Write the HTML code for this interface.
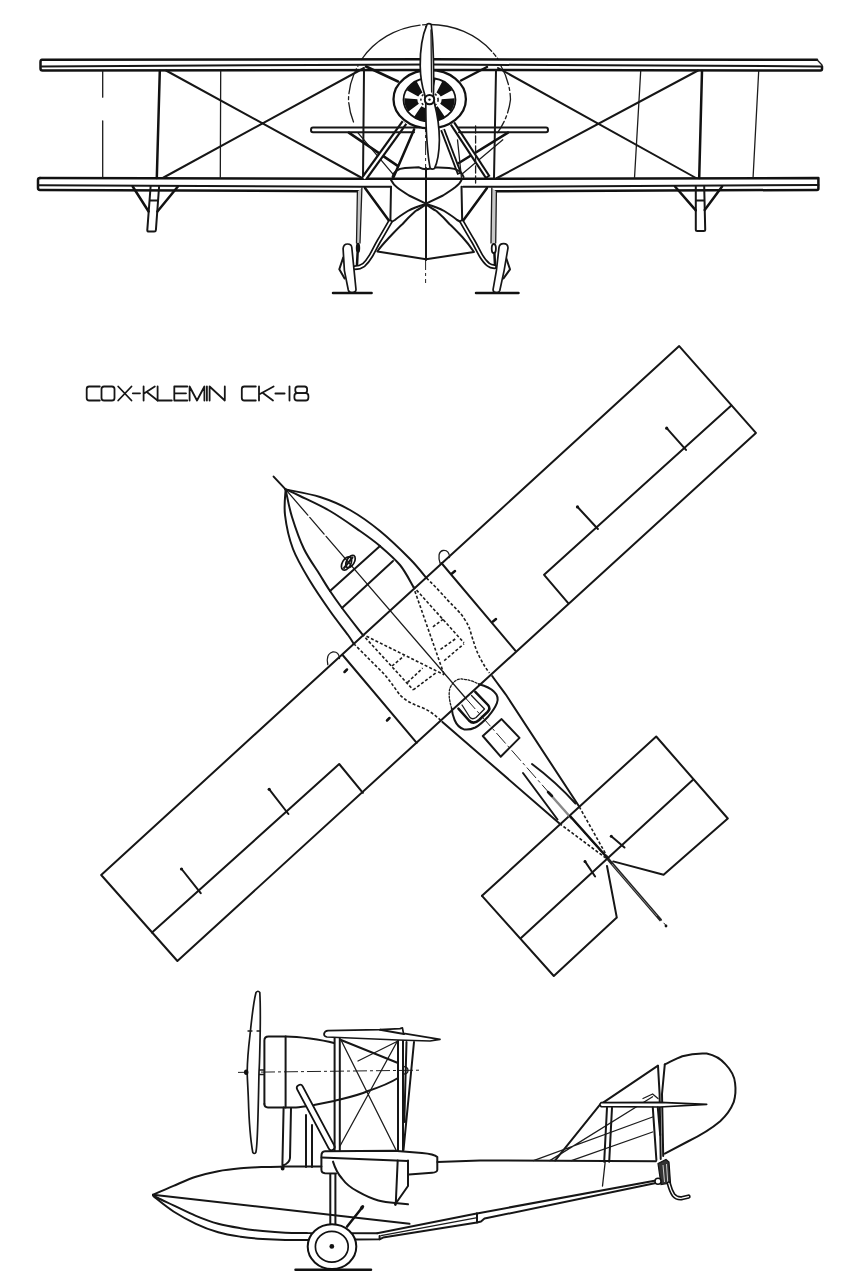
<!DOCTYPE html>
<html><head><meta charset="utf-8"><title>Cox-Klemin CK-18</title>
<style>
html,body{margin:0;padding:0;background:#fff;}
body{width:850px;height:1287px;overflow:hidden;font-family:"Liberation Sans",sans-serif;}
svg{display:block;filter:blur(0.3px);}
.k{fill:none;stroke:#161616;stroke-width:2;stroke-linecap:round;stroke-linejoin:round;}
.t{fill:none;stroke:#1c1c1c;stroke-width:1.3;stroke-linecap:round;stroke-linejoin:round;}
.h{fill:none;stroke:#111;stroke-width:2.5;stroke-linecap:round;stroke-linejoin:round;}
.w{fill:#fff;stroke:#161616;stroke-width:1.7;stroke-linejoin:round;}
.d{fill:none;stroke:#1c1c1c;stroke-width:1.6;stroke-dasharray:3 2;}
.cl{fill:none;stroke:#222;stroke-width:1;stroke-dasharray:14 3 3 3;}
</style></head><body>
<svg width="850" height="1287" viewBox="0 0 850 1287">
<rect width="850" height="1287" fill="#fff"/>
<!--FRONT-->
<g id="front">
<!-- prop disc arc -->
<path class="t" stroke-width="1.7" d="M361.5,59.5 A81,75.2 0 0 1 429.5,24.5 A81,75.2 0 0 1 498.2,59.5" stroke-dasharray="70 2.5 4 2.5"/>
<path class="t" stroke-width="1.3" d="M353.5,122 A81,75.2 0 0 1 348.5,99.7 A81,75.2 0 0 1 358,66" stroke-dasharray="20 3 3 3"/>
<path class="t" stroke-width="1.3" d="M501,66 A81,75.2 0 0 1 510.5,99.7 A81,75.2 0 0 1 497.6,132.6" stroke-dasharray="20 3 3 3"/>
<!-- centre line -->
<path class="cl" d="M425.6,26 V283"/>
<!-- top wing -->
<path class="h" stroke-width="2.2" d="M817,59.7 L430,59.3 L42,59.7 Q40.5,59.7 40.5,62 V68.5 Q40.5,70.5 42.5,70.5 L430,70 L820.5,70.5 Q822,70.5 822,69 V66.4"/>
<path class="k" stroke-width="2" d="M41,66.4 L250,65.2 L430,64.6 L600,65.2 L822,66.4"/>
<path class="t" d="M817,59.7 L822,65" stroke="#999"/>
<!-- bottom wing -->
<path class="h" stroke-width="2.3" d="M40,178.1 L360,178.8 L494,178.8 L818.4,178.1 V188.5 Q818.4,189.9 817,189.9 L494,191.2"/>
<path class="h" stroke-width="2.2" d="M359,191.2 L40,189.9 Q38,189.9 38,188 V180 Q38,178.1 40,178.1"/>
<path class="k" stroke-width="1.9" d="M38.5,185.3 L360,186.8 H391"/><path class="k" stroke-width="1.9" d="M463,186.8 H494 L818.4,185"/>
<!-- interplane struts left -->
<path class="t" stroke-width="1.5" d="M102.7,71 V97.2 M102.7,120.8 V177"/>
<path class="h" stroke-width="3" d="M159.8,71 L156.8,178"/>
<path class="t" stroke-width="1.6" d="M220.7,71 L220.3,178"/>
<path class="k" d="M166,70.5 L362,178 M163.6,177.5 L364,68"/>
<!-- right -->
<path class="t" stroke-width="1.6" d="M640.7,71 L634.5,178"/>
<path class="h" stroke-width="3" d="M702,71 L699.2,178"/>
<path class="t" stroke-width="1.6" d="M758.7,71 L753.1,177"/>
<path class="k" d="M698,70.5 L497,178 M696,178 L498,68"/>
<!-- wing floats -->
<path class="k" stroke-width="2" d="M150.6,186.5 L147.3,230 Q147.3,231.6 149,231.6 H154.2 Q155.8,231.6 155.9,230 L159.1,186.5 M149.5,200.6 H158"/>
<path class="h" stroke-width="2.2" d="M132.7,186.5 L148.6,211.5 M177.9,186.5 L157.4,211.5"/>
<path class="k" stroke-width="2" d="M695.8,186.5 V229.5 Q695.8,231 697.3,231 H703.7 Q705.2,231 705.2,229.5 L704.2,186.5 M695.8,200.6 H704.5"/>
<path class="h" stroke-width="2.2" d="M675,186.5 L695.8,210.4 M722.1,186.5 L704.7,209.9"/>
<!-- cabane -->
<path class="k" d="M364,70.5 L363,178 M496,70.5 L494,178"/>
<path class="h" d="M366,66.5 L398,81.5 M487,67 L461,80.5"/>
<!-- engine mount struts -->
<path class="h" stroke-width="2.5" d="M348.8,132.6 L397.3,165.6 M508,132.6 L458.8,163"/>
<path class="t" stroke-width="1.4" d="M357.8,132.6 L393.4,174.7 M502.8,139.8 L462.7,173.4"/>
<path d="M364.6,177.8 L404.5,122.5" fill="none" stroke="#111" stroke-width="6.6"/><path d="M364,178.6 L404.5,122.5" fill="none" stroke="#fff" stroke-width="2.2"/>
<path d="M488,177.6 L452.5,123.5" fill="none" stroke="#111" stroke-width="6"/><path d="M487,176 L452.5,123.5" fill="none" stroke="#fff" stroke-width="1.8"/>
<path class="h" stroke-width="3" d="M414.1,129.4 L393.6,177"/>
<path d="M442.6,129.6 L459.6,174" fill="none" stroke="#111" stroke-width="5"/><path d="M442.6,129.6 L459,172.5" fill="none" stroke="#fff" stroke-width="1.3"/>
<path class="t" stroke-width="1.5" d="M457.5,139.8 L461.4,177.3"/>
<path class="t" stroke-width="1.4" d="M475.6,126 V186" stroke-dasharray="7 3"/>
<!-- stub plane -->
<path class="k" d="M420,127.6 H313 Q311,127.6 311,130 Q311,132.3 313,132.3 H414 M458.5,127.6 H546 Q548,127.6 548,130 Q548,132.2 546,132.2 H459"/>
<!-- engine -->
<ellipse cx="429.7" cy="99.2" rx="36.2" ry="29.2" fill="#fff" stroke="#111" stroke-width="2.3"/>
<ellipse cx="429.5" cy="99.7" rx="26" ry="21.7" fill="#fff" stroke="#111" stroke-width="1.8"/>
<ellipse cx="429.5" cy="99.7" rx="18.6" ry="15.4" fill="none" stroke="#111" stroke-width="13" pathLength="70" stroke-dasharray="6.4 3.6" stroke-dashoffset="0.7"/>
<ellipse cx="429.5" cy="99.7" rx="8.6" ry="7.4" fill="#fff" stroke="#222" stroke-width="1.6" stroke-dasharray="2.2 2.6"/>
<!-- hull -->
<path class="k" d="M392.5,177 Q394,169 405,168 L419,167.3 Q426,171 433,167.3 L449,168 Q461,169 463.6,177"/>
<path class="k" d="M391,180 C393,184 395,186 397.5,187.8 C401,190.5 405,193 409,195.5 L426,203.6 L443,195.5 C447,193 451,190.5 454.5,187.8 C457,186 460,184 461.5,180"/>
<path class="k" d="M391,186.8 L390.4,221 M461.5,186.8 L462.2,221"/>
<path class="k" d="M426,204 C419,206 413,208 407.8,211 C403,214 399,216.5 394.9,220 L390.6,222.5 M426,204 C433,206 439,208 444.2,211 C449,214 453,216.5 457.1,220 L461.8,222.5"/>
<path class="k" d="M426,204.6 C422,207 419,209 415.6,211 C411,215 406.5,219.5 402.6,224 C398,228 394,232.5 389.7,237 C386,241 381,246 377.4,251.5 L426,259.2 L474,252 C470,246 466,241 462.3,237 C458,232.5 454,228 449.4,224 C445.5,219.5 441,215 436.4,211 C433,209 430,207 426,204.6"/>
<path class="k" stroke-width="2" d="M426,168 V260"/>
<!-- gear -->
<path class="h" d="M365,188 L389,220.8 M487,188 L463,220.8"/>
<path d="M357.4,191.5 L356.5,243 L360,243 L361.9,188 Z M491.8,188 L491,243 L495.7,243 L496.4,191.5 Z" fill="#c8c8c8" stroke="none"/>
<path class="t" stroke-width="1.5" d="M357.4,191.5 L356.5,243 M361.9,188 L360,243 M491.8,188 L491,243 M496.4,191.5 L495.7,243"/>
<ellipse cx="358" cy="248" rx="2.2" ry="5.2" fill="#111"/><ellipse cx="493.8" cy="248.6" rx="2.1" ry="4.6" fill="#fff" stroke="#111" stroke-width="1.8"/>
<path class="h" d="M357.6,253 L357,265 M494.4,253 L495,265"/>
<path d="M390,222 C386,229 382,236 378.7,241.4 C376,246 373.5,251.5 371,255.7 C369,259 366.5,262.5 363.7,265 C361,267 358,267.7 354.5,267.8" fill="none" stroke="#111" stroke-width="5" stroke-linecap="round"/>
<path d="M390,222 C386,229 382,236 378.7,241.4 C376,246 373.5,251.5 371,255.7 C369,259 366.5,262.5 363.7,265 C361,267 358,267.7 354.5,267.8" fill="none" stroke="#fff" stroke-width="1.6" stroke-linecap="round"/>
<path d="M462,222 C466,229 470,236 473.3,241.4 C476,246 478.5,251.5 481,255.7 C483,259 485.5,262.5 488.3,264.6 C490,266 492,266.6 494.5,266.8" fill="none" stroke="#111" stroke-width="5" stroke-linecap="round"/>
<path d="M462,222 C466,229 470,236 473.3,241.4 C476,246 478.5,251.5 481,255.7 C483,259 485.5,262.5 488.3,264.6 C490,266 492,266.6 494.5,266.8" fill="none" stroke="#fff" stroke-width="1.6" stroke-linecap="round"/>
<path class="k" d="M343.2,257.6 L339.3,269.3 L344.6,278.4 M506,257.6 L510,269.3 L503.5,278.4"/>
<path class="w" d="M347.6,244 Q343.5,244 343.1,248.6 L344.4,270.6 L348.3,290 Q349,292.8 352.2,292.6 Q356,292.4 356,289.5 L354.1,270.6 L351.8,247.5 Q351.5,244 347.6,244 Z"/>
<path class="w" d="M503.6,243.6 Q507.8,243.6 508,247.8 L504.1,270.6 L499.8,290.5 Q499,292.8 496.2,292.6 Q492.8,292.2 493.1,289.3 L496.4,270.6 L499,247.3 Q499.6,243.6 503.6,243.6 Z"/>
<path class="h" d="M333,293 H371.6 M476,293 H518.5"/>
<!-- prop blade -->
<path class="w" d="M427,24.3 Q429,23 431.2,24.5 C432.6,35 433.4,55 433.6,70 C433.7,82 433.6,90 433.4,95 L434.6,104 C437.5,115 439.3,128 439.4,140 C439.2,153 437.2,163 434.4,168.6 Q432,170 430.2,168.2 C428.4,160 426.8,140 426.2,128 C425.8,118 425.8,110 425.8,104 L424.8,95 C422.5,88 420.4,78 420.2,66 C420,50 422,36 427,24.3 Z"/>
<path class="t" d="M431,30 L431.6,92" stroke-width="1.1"/>
<circle cx="429.5" cy="99.6" r="4.7" fill="#fff" stroke="#111" stroke-width="2"/><circle cx="429.5" cy="99.6" r="1.2" fill="#111"/>
</g>
<!--TITLE-->
<g id="title" fill="none" stroke="#161616" stroke-width="1.8" stroke-linecap="round" stroke-linejoin="round">
<path d="M99.8,386.5 H89.2 Q86.7,386.5 86.7,389 V398 Q86.7,400.5 89.2,400.5 H99.8"/>
<rect x="101.5" y="386.5" width="13" height="14" rx="2.6"/>
<path d="M118.2,386.5 L131.5,400.5 M131.5,386.5 L118.2,400.5"/>
<path d="M132.8,393.3 H140"/>
<path d="M143.6,386.5 V400.5 M154.8,386.5 L144,393.6 M146.8,392 L157.6,400.5"/>
<path d="M157.6,386.5 V400.5 H171.8"/>
<path d="M187.3,386.5 H174.3 V400.5 H187.3 M174.3,393.3 H186"/>
<path d="M189.6,400.5 V386.5 L197,400.5 L204.4,386.5 V400.5"/>
<path d="M206.9,386.5 V400.5"/>
<path d="M209.6,400.5 V386.5 L224.8,400.5 V386.5"/>
<path d="M255.8,386.5 H244.3 Q241.8,386.5 241.8,389 V398 Q241.8,400.5 244.3,400.5 H255.8"/>
<path d="M259,386.5 V400.5 M273.6,386.5 L259.5,394.2 M262.2,392.6 L273,400.5"/>
<path d="M275.4,393.5 H284.6"/>
<path d="M289.5,386.5 V400.5"/>
<rect x="295.3" y="386.5" width="11.8" height="6.7" rx="2.6"/>
<rect x="294.4" y="393.2" width="14" height="7.3" rx="2.8"/>
</g>
<!--PLAN-->
<g id="plan">
<!-- centre line -->
<path class="k" d="M273.6,476.6 L285.6,489.4"/><path class="t" stroke-width="1.5" d="M285.6,489.4 L466,698.5" stroke-dasharray="34 3 22 3 400"/>
<path class="cl" d="M466,698.5 L666,925.5" stroke-dasharray="12 3 3 3"/>
<!-- upper wing -->
<path class="k" d="M101.2,875 L679.2,346.1 L755.9,432.9 L177.4,961 Z"/>
<path class="k" d="M731.3,405.4 L544.1,574.8 L568.2,603.2"/>
<path class="k" d="M152,932.6 L339.2,764 L362.9,792.8"/>
<path class="k" d="M666.9,428.3 L686,449.9 M577.6,507 L597.9,529 M181.6,869 L200.7,893.2 M269.3,789.4 L288.4,814"/>
<g fill="#111"><circle cx="666.7" cy="428.2" r="1.6"/><circle cx="577.5" cy="506.9" r="1.6"/><circle cx="181.5" cy="869" r="1.6"/><circle cx="269.2" cy="789.3" r="1.6"/></g>
<path class="k" d="M441.4,563 L515.3,650.6 M342.6,655 L416.7,742.8"/>
<path class="h" d="M452,573.5 L455,571 M493,621.5 L496,619 M347,669.5 L344.5,672 M389.5,718 L387,720.5"/>
<path class="t" d="M440.2,563.5 C438,557 438.5,551.5 443,550.5 C447.5,550 449.5,553 449.5,557.5"/>
<path class="t" d="M327.8,664.5 C326.5,659 327.5,653.5 332.5,652 C337,651.5 339.3,654 339.5,658.5"/>
<!-- hull fwd -->
<path class="k" d="M285.6,489.4 C291.3,490.7 309.3,493.6 320.0,497.0 C330.7,500.4 340.0,504.3 350.0,510.0 C360.0,515.7 370.0,522.8 380.0,531.0 C390.0,539.2 402.3,551.2 410.0,559.0 C417.7,566.8 423.7,574.8 426.4,578.0"/>
<path class="k" d="M285.6,489.4 C285.5,493.7 283.8,505.1 285.0,515.0 C286.2,524.9 288.8,538.0 293.0,549.0 C297.2,560.0 303.8,570.7 310.0,581.0 C316.2,591.3 323.7,602.0 330.0,611.0 C336.3,620.0 344.1,629.6 348.0,635.0 C351.9,640.4 352.7,642.1 353.6,643.5"/>
<path class="k" stroke-width="1.6" d="M285.6,489.4 C288.0,490.5 292.6,492.4 300.0,496.0 C307.4,499.6 320.0,505.2 330.0,511.0 C340.0,516.8 351.7,525.2 360.0,531.0 C368.3,536.8 373.3,540.3 380.0,546.0 C386.7,551.7 394.4,558.2 400.0,565.0 C405.6,571.8 411.2,583.3 413.5,587.0"/>
<path class="k" stroke-width="1.6" d="M285.6,489.4 C286.7,494.0 288.9,507.1 292.0,517.0 C295.1,526.9 299.3,539.3 304.0,549.0 C308.7,558.7 315.7,568.0 320.0,575.0 C324.3,582.0 326.3,585.5 330.0,591.0 C333.7,596.5 336.7,600.8 342.0,608.0 C347.3,615.2 358.7,629.7 362.0,634.0"/>
<path class="k" d="M330,591 L380,546 M342,608 L393,561"/>
<!-- windscreen gadget -->
<ellipse cx="346.5" cy="563.5" rx="4.2" ry="7.2" transform="rotate(30 346.5 563.5)" fill="none" stroke="#111" stroke-width="1.7"/>
<ellipse cx="350.5" cy="561.5" rx="3.8" ry="6.8" transform="rotate(30 350.5 561.5)" fill="none" stroke="#111" stroke-width="1.7"/>
<path class="k" d="M344,568 L352.5,557.5"/>
<!-- dashed hull under wing -->
<path class="d" d="M426.4,578 C436,587 442,594 447.1,599.5 C455,608 461,613 464,618.4 C468,624 470,629 471.5,635.3 C474,643 476,650 479.1,656 C482,662 485,667 489.4,673"/>
<path class="d" d="M353.6,643.5 C365,655 376,666 384.7,674.6 C391,682 396,690 400.2,695.3 C407,702 415,705 423.5,708.2 C430,711 436,716 441.6,721.2"/>
<!-- dashed A-frames -->
<path class="d" d="M413.2,586.4 L444.2,674.8 M413.2,586.4 L464,642.8 M432.9,626.8 L444.2,618.4 M440.5,649.4 L456.5,638.1 M444.2,660.7 L464,643.8"/>
<path class="d" d="M362,634 L444.2,674.8 M362,634 L413.2,689.9 M407.5,682.4 L422.6,668.2 M413.2,689.9 L435.8,672.9 M392,666 L404,656"/>
<!-- hull aft -->
<path class="k" d="M492.2,676 C497,683 502,689 506.3,695.3 L579.3,806.8"/>
<path class="k" d="M442.4,721.9 L559.5,823.5"/>
<!-- rear cockpit -->
<path class="t" d="M451.8,708.7 C449,700 448.5,693 450,688 C453,681 458,678.5 462.1,679 C468,679.5 474,681.5 479.1,684.2" stroke-dasharray="2 1.6"/>
<path class="k" d="M479.1,684.2 C486,686 491,688.5 494.1,691.8 C497.5,695 498.5,699 496.9,703.1 C495,708 492,712 488.5,716.2 C484,721 480,725 475.3,727.5 C471,729.5 467.5,730 464,729.4 C459.5,728 456.5,724.5 454.6,720 C453,716 452,712 451.8,708.7"/>
<path class="h" d="M475.3,691.8 L488,705 Q491,708.5 487.5,712 L479.1,720 Q473.5,725 469,720.5 L458.4,708.7"/>
<path class="t" d="M471.5,695.5 L484.5,709 L476,717.5 Q472.5,720 470,717.5 L462,705"/>
<!-- hatch -->
<path class="k" d="M501.6,719.1 L519.5,737.9 L500.7,756.7 L482.8,736 Z"/>
<!-- tailplane -->
<path class="k" d="M482,895.8 L656.2,736.5 L727.8,818.5 L663.6,874.8 L613.2,861.4"/>
<path class="k" d="M482,895.8 L553.8,976 L616.8,917.6 L607,866"/>
<path class="k" d="M521,937.9 L693,779.7"/>
<path class="k" d="M611.3,836.2 L624.5,847.5 M585,861.4 L595.1,876.5"/>
<circle cx="611.3" cy="836.2" r="1.5" fill="#111"/><circle cx="585" cy="861.4" r="1.5" fill="#111"/>
<!-- fin -->
<path class="k" d="M532,764 Q556,782 575.5,803.5 M523,773 L557.5,819.5"/>
<path d="M549,793 L572,819" fill="none" stroke="#888" stroke-width="2.4"/>
<path class="h" d="M548,792 L552,796 M570,816 L608,858.5"/>
<path class="d" d="M579.3,806.8 L608,858 M559.5,823.5 L607,859" stroke-width="1.7"/>
<path d="M608,859 L661,920.5" fill="none" stroke="#222" stroke-width="3"/>
<path d="M612,864 L657,916" fill="none" stroke="#999" stroke-width="0.8"/>
<circle cx="666" cy="926" r="1.4" fill="#111"/>
</g>
<!--SIDE-->
<g id="side">
<!-- thrust line -->
<path class="cl" d="M238,1072.4 L419,1070.2" stroke-dasharray="13 3 3 3" stroke-width="1.2"/>
<!-- nacelle -->
<path class="k" d="M264.4,1104 V1040.5 Q264.4,1036.6 268.5,1036.6 H286 C295,1036.6 302,1037.5 310,1038.6 C320,1040 328,1041.5 334,1043"/>
<path class="k" d="M264.4,1104 Q264.4,1107.4 268,1107.4 H296 C302,1107.2 308,1106 314,1105 L334,1101 C346,1098 358,1095.5 368,1091 C380,1087 390,1083 398,1078"/>
<path class="k" d="M285.6,1036.6 V1107.4"/>
<path class="t" d="M259,1070 H264.4 M259,1074.5 H264.4"/>
<path class="t" d="M403.5,1066.5 Q408,1067 408,1070.5 Q408,1074 403.5,1074"/>
<!-- engine support struts -->
<path class="k" d="M283.6,1107.4 L282.4,1165 M291,1108 L290,1158 Q289.5,1163 283,1165.5"/>
<ellipse cx="282.6" cy="1168" rx="2" ry="2.6" fill="#111"/>
<path class="k" d="M306,1115 V1167 M312,1125 V1167"/>
<path d="M300,1088 L331.5,1147" fill="none" stroke="#111" stroke-width="8" stroke-linecap="round"/>
<path d="M300,1088 L331.5,1147" fill="none" stroke="#fff" stroke-width="4.6" stroke-linecap="round"/>
<!-- interplane struts -->
<path class="k" d="M334.6,1038 V1151 M339.8,1038 V1151"/>
<path class="k" d="M398,1040 V1151 M403,1040 V1151"/>
<path class="k" d="M414,1042 L403.5,1150 M406.5,1042 L404.3,1122"/>
<path class="t" d="M341,1040 L396,1150 M398,1040 L340,1146"/>
<path class="k" d="M341,1040 L398,1063"/>
<path class="t" d="M358,1061 L398,1041"/>
<!-- upper wing -->
<path class="w" d="M324,1034 Q324.5,1030.8 328,1030.6 L380,1029.6 L400,1028.6 L402.4,1027.8 L403.5,1033.4 L440,1039.4 L430,1041 L398,1040 L327,1037 Q324,1036.5 324,1034 Z"/>
<path class="k" d="M380,1029.8 L404,1034"/>
<!-- lower wing -->
<path d="M321.4,1156 Q321.4,1151.5 325,1151.3 L394,1150.8 L422,1153 Q434,1154 437.3,1157 V1170 Q437,1172.5 432,1172.8 L409,1174.5 L325,1173.3 Q321.4,1173 321.4,1169.5 Z" fill="#fff" stroke="none"/>
<path class="k" d="M336,1173.4 L325,1173.3 Q321.4,1173 321.4,1169.5 V1156 Q321.4,1151.5 325,1151.3 L394,1150.8 L422,1153 Q434,1154 437.3,1157 V1170 Q437,1172.5 432,1172.8 L409,1174.5"/>
<path class="k" d="M321.6,1157.5 L408,1161"/>
<!-- wing float -->
<path class="k" d="M333,1161.6 C335,1168 338,1174 342,1178.5 C346,1184 351,1188 357.6,1191.4 C364,1195 371,1198.5 378.3,1200.5 C384,1202 390,1202.6 395.2,1203 L408,1204.3"/>
<path class="k" d="M408,1160.4 V1186 L395.4,1204 M397.7,1160.4 L395.8,1203"/>
<circle cx="395.4" cy="1204.6" r="1.3" fill="#111"/>
<!-- hull -->
<path class="k" d="M153.0,1194.7 C156.4,1193.2 166.3,1188.8 173.5,1185.8 C180.7,1182.8 188.5,1179.2 195.9,1176.8 C203.3,1174.4 210.8,1172.6 218.2,1171.2 C225.6,1169.8 233.2,1169.0 240.6,1168.3 C248.0,1167.6 255.8,1167.3 262.9,1167.0 C270.0,1166.7 273.2,1166.7 283.0,1166.6 C292.8,1166.5 315.0,1166.6 321.4,1166.6"/>
<path class="k" d="M437.4,1162 L480,1160.4 L655.9,1161.2"/>
<path class="k" stroke-width="1.6" d="M153,1194.7 L330,1214.8 L409.5,1223.8"/>
<path class="k" d="M153.0,1195.5 C153.4,1195.9 152.2,1195.3 155.6,1198.0 C159.0,1200.7 166.8,1207.2 173.5,1211.5 C180.2,1215.8 188.5,1220.3 195.9,1223.8 C203.3,1227.3 210.8,1230.1 218.2,1232.3 C225.6,1234.5 233.2,1235.6 240.6,1236.7 C248.0,1237.8 255.4,1238.5 262.9,1239.0 C270.3,1239.5 277.9,1239.8 285.3,1239.9 C292.8,1240.1 303.9,1239.9 307.6,1239.9 L379.6,1239.3 V1236"/>
<path class="k" d="M153.5,1195.0 C154.2,1195.5 154.6,1196.3 157.9,1198.0 C161.2,1199.7 167.2,1202.4 173.5,1205.4 C179.8,1208.4 188.5,1212.8 195.9,1215.9 C203.3,1219.0 210.8,1221.8 218.2,1223.8 C225.6,1225.8 233.2,1227.0 240.6,1228.2 C248.0,1229.4 255.4,1230.3 262.9,1231.1 C270.3,1231.8 277.9,1232.4 285.3,1232.7 C292.8,1233.0 303.9,1233.0 307.6,1233.1 L377.2,1233.3"/>
<path class="k" d="M377.2,1233.3 L476.7,1213.4"/>
<path class="k" d="M379.6,1239.3 L383,1237.6 L477,1222.5 V1213.4"/>
<path class="t" stroke="#555" d="M381,1235.6 L476,1217.8"/>
<path class="k" d="M477,1222.5 L481,1221.5 L484.5,1218.6 L655.9,1183 M477,1213.4 L655.9,1180.5"/>
<!-- wheel -->
<path class="h" d="M295.5,1269.8 H371"/>
<path class="k" d="M330.3,1174 V1225 M335.4,1174 V1225"/>
<path class="h" d="M347.1,1226.6 L361,1209"/>
<ellipse cx="362" cy="1207.5" rx="1.8" ry="2.8" transform="rotate(35 362 1207.5)" fill="#111"/>
<ellipse cx="332" cy="1246.6" rx="24.3" ry="22.4" fill="#fff" stroke="#111" stroke-width="2"/>
<ellipse cx="331.8" cy="1246.8" rx="16.4" ry="15.4" fill="#fff" stroke="#111" stroke-width="1.7"/>
<circle cx="331.8" cy="1246.4" r="2.4" fill="#111"/>
<!-- prop -->
<path class="w" d="M256,992.5 Q258,990 259.8,992.5 C260.5,1005 260.2,1035 259.8,1050 C259.6,1060 259.3,1068 259,1072 C258.6,1090 258.3,1110 257.6,1128 C257.2,1140 256.5,1150 255.8,1152.5 Q254.3,1154.5 252.8,1152.5 C250.5,1140 249,1120 248.4,1100 C248,1088 247.2,1078 247.2,1072 C247.3,1062 248.8,1045 250,1035 C251.5,1020 254,1000 256,992.5 Z"/>
<path class="t" d="M248,1031 H252 M257,1031 H260.5"/>
<ellipse cx="246.2" cy="1072.2" rx="2.2" ry="2.8" fill="#111"/>
<!-- tail -->
<path class="k" d="M555.2,1160.4 L599.8,1104.9 L658,1065.7"/>
<path class="k" d="M658,1065.7 L659.6,1094 L660.7,1159 M664.8,1064.4 L662,1094 L663.2,1156"/>
<path class="k" d="M664.8,1064.4 C670,1062 676,1058.5 682.3,1056.2 C690,1054 698,1053 706.7,1053.5 C714,1055 721,1059 725.6,1064.4 C731,1070 734.5,1076 735.1,1083.3 C736,1090 735.5,1096 733.7,1102.2 C731,1109 726,1116 720.2,1121.2 C711,1129 699,1136 687.8,1141.5 L664.8,1153.6"/>
<path class="t" stroke-width="1.5" d="M533.5,1160.6 L652.6,1117 M549.8,1160.6 L652.6,1096.8 M571.4,1160.6 L652.6,1132 M643,1098.5 L652.6,1094 L658,1098.5"/>
<path d="M599.8,1104.4 L601,1102.6 L660,1102.4 L706.7,1104.4 L660,1107 L601,1106.6 Z" fill="#fff" stroke="#111" stroke-width="1.6" stroke-linejoin="round"/>
<path class="k" d="M607,1107.6 L604.2,1161.8 M612,1107.6 L609.2,1161.8 M652.8,1107.6 L656.4,1160 M657.8,1107.6 L660.2,1135"/>
<path class="t" d="M605.2,1161.8 L602.5,1186"/>
<!-- tail skid -->
<path d="M658,1163.5 L666,1159.5 L669,1162 L670.5,1183 L661,1184.5 Z" fill="#333" stroke="#111" stroke-width="1.2"/>
<path d="M663,1165 L664.5,1182 M666.5,1164 L667.7,1182" fill="none" stroke="#ddd" stroke-width="0.9"/>
<circle cx="658" cy="1181.3" r="3" fill="#fff" stroke="#111" stroke-width="1.5"/>
<path d="M668.8,1183.4 C670,1188 671.5,1192 673.5,1195 C676,1198 679,1198.6 682,1198.2 L688.5,1196.6" fill="none" stroke="#111" stroke-width="4.4" stroke-linecap="round"/>
<path d="M668.8,1183.4 C670,1188 671.5,1192 673.5,1195 C676,1198 679,1198.6 682,1198.2 L688.5,1196.6" fill="none" stroke="#fff" stroke-width="1.2" stroke-linecap="round"/>
</g>
</svg>
</body></html>
